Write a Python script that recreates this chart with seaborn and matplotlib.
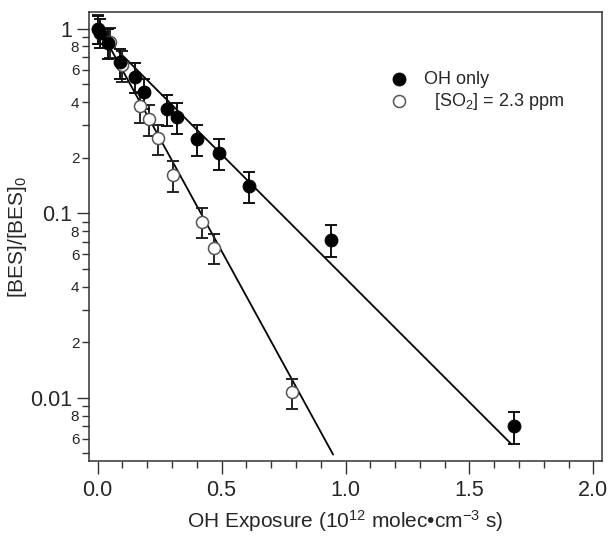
import matplotlib
matplotlib.use("Agg")
import matplotlib.pyplot as plt
import matplotlib.ticker as mticker
import numpy as np
import pandas as pd
import seaborn as sns

# OH only
oh_x = [0.0, 0.01, 0.04, 0.09, 0.15, 0.187, 0.28, 0.32, 0.40, 0.49, 0.61, 0.94, 1.68]
oh_y = [1.0, 0.95, 0.84, 0.656, 0.548, 0.451, 0.365, 0.33, 0.251, 0.211, 0.141, 0.072, 0.0070]
oh_err = [0.17, 0.17, 0.16, 0.12, 0.10, 0.085, 0.07, 0.063, 0.048, 0.04, 0.027, 0.014, 0.0014]

# [SO2] = 2.3 ppm
so_x = [0.0, 0.05, 0.10, 0.17, 0.208, 0.245, 0.305, 0.423, 0.47, 0.786]
so_y = [1.0, 0.85, 0.634, 0.38, 0.323, 0.254, 0.161, 0.090, 0.065, 0.0107]
so_err = [0.18, 0.16, 0.12, 0.072, 0.061, 0.048, 0.03, 0.017, 0.012, 0.002]

# fitted lines (end points)
fit_oh_x = [0.0, 1.67]
fit_oh_y = [0.975, 0.0056]
fit_so_x = [0.0, 0.95]
fit_so_y = [1.047, 0.00493]

sns.set_style("ticks")
plt.rcParams['font.family'] = ['Liberation Sans', 'DejaVu Sans']
plt.rcParams['mathtext.fontset'] = 'custom'
plt.rcParams['mathtext.rm'] = 'Liberation Sans'
plt.rcParams['mathtext.it'] = 'Liberation Sans'

fig = plt.figure(figsize=(6.12, 5.44), dpi=100)
ax = fig.add_axes([0.1454, 0.1526, 0.8383, 0.8254])

df_oh = pd.DataFrame({"x": oh_x, "y": oh_y})
df_so = pd.DataFrame({"x": so_x, "y": so_y})

sns.lineplot(x=fit_so_x, y=fit_so_y, ax=ax, color="black", linewidth=1.3, zorder=1)
sns.lineplot(x=fit_oh_x, y=fit_oh_y, ax=ax, color="black", linewidth=1.3, zorder=1)

ax.errorbar(so_x, so_y, yerr=so_err, fmt="none", ecolor="#222222",
            elinewidth=1.4, capsize=4, capthick=1.4, zorder=2)
ax.errorbar(oh_x, oh_y, yerr=oh_err, fmt="none", ecolor="#111111",
            elinewidth=1.4, capsize=4, capthick=1.4, zorder=2)

sns.scatterplot(data=df_so, x="x", y="y", ax=ax, s=75, facecolor="white",
                edgecolor="#555555", linewidth=1.1, zorder=3,
                label="  [SO$_2$] = 2.3 ppm")
sns.scatterplot(data=df_oh, x="x", y="y", ax=ax, s=85, color="black",
                edgecolor="black", zorder=4, label="OH only")

ax.set_yscale("log")
ax.set_xlim(-0.035, 2.035)
ax.set_ylim(0.00455, 1.23)

ax.xaxis.set_major_locator(mticker.MultipleLocator(0.5))
ax.xaxis.set_minor_locator(mticker.MultipleLocator(0.1))
ax.xaxis.set_major_formatter(mticker.FormatStrFormatter("%.1f"))

ax.yaxis.set_major_locator(mticker.FixedLocator([0.01, 0.1, 1]))
ax.yaxis.set_major_formatter(mticker.FixedFormatter(["0.01", "0.1", "1"]))
ax.yaxis.set_minor_locator(mticker.LogLocator(base=10, subs=np.arange(2, 10)))


def minor_fmt(v, pos):
    d = int(round(v / 10 ** np.floor(np.log10(v) + 1e-9)))
    return str(d) if d in (2, 4, 6, 8) else ""


ax.yaxis.set_minor_formatter(mticker.FuncFormatter(minor_fmt))

ax.tick_params(axis="both", which="major", direction="out", length=9,
               width=1, labelsize=15.5, pad=3, color="#333333")
ax.tick_params(axis="both", which="minor", direction="out", length=5,
               width=1, labelsize=11, pad=2, color="#333333")
ax.tick_params(axis="x", which="major", pad=5)

for sp in ax.spines.values():
    sp.set_linewidth(1.1)
    sp.set_color("#333333")

ax.set_xlabel("OH Exposure (10$^{12}$ molec\u2022cm$^{-3}$ s)", fontsize=15, labelpad=5)
ax.set_ylabel("[BES]/[BES]$_0$", fontsize=15, labelpad=1)

handles, labels = ax.get_legend_handles_labels()
leg = ax.legend(handles[::-1], labels[::-1], loc="upper left",
                bbox_to_anchor=(0.555, 0.885), frameon=False, fontsize=13,
                handletextpad=0.4, labelspacing=0.15, borderaxespad=0)

fig.savefig("out.png", dpi=100)
